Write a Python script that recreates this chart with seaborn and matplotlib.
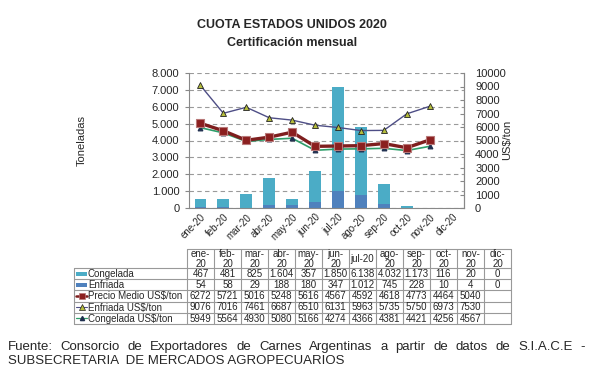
import numpy as np
import pandas as pd
import matplotlib
matplotlib.use('Agg')
import matplotlib.pyplot as plt
from matplotlib.patches import Rectangle
import seaborn as sns

### Datos
meses = ['ene-20', 'feb-20', 'mar-20', 'abr-20', 'may-20', 'jun-20',
         'jul-20', 'ago-20', 'sep-20', 'oct-20', 'nov-20', 'dic-20']
congelada = [467, 481, 825, 1604, 357, 1850, 6138, 4032, 1173, 116, 20, 0]
enfriada = [54, 58, 29, 188, 180, 347, 1012, 745, 228, 10, 4, 0]
precio_medio = [6272, 5721, 5016, 5248, 5616, 4567, 4592, 4618, 4773, 4464, 5040]
enfriada_usd = [9076, 7016, 7461, 6687, 6510, 6131, 5963, 5735, 5750, 6973, 7530]
congelada_usd = [5949, 5564, 4930, 5080, 5166, 4274, 4366, 4381, 4421, 4256, 4567]

c_cong = '#4BACC6'
c_enf = '#4F81BD'
c_precio = '#7E1E1E'
c_enf_usd = '#4E4E86'
c_cong_usd = '#2E9E6A'

sns.set_style('white')
plt.rcParams['font.family'] = ['Liberation Sans', 'DejaVu Sans']

W, H = 593, 377
fig = plt.figure(figsize=(W / 100, H / 100), dpi=100)
fig.patch.set_facecolor('white')

def box(x0, y0, x1, y1):
    return [x0 / W, 1 - y1 / H, (x1 - x0) / W, (y1 - y0) / H]

###############################################################################
### Grafico principal
ax = fig.add_axes(box(189, 73, 464, 208))
df = pd.DataFrame({'mes': meses,
                   'total': np.array(congelada) + np.array(enfriada),
                   'enfriada': enfriada})
sns.barplot(data=df, x='mes', y='total', color=c_cong, saturation=1,
            width=0.52, linewidth=0, ax=ax)
sns.barplot(data=df, x='mes', y='enfriada', color=c_enf, saturation=1,
            width=0.52, linewidth=0, ax=ax)
ax.set_ylim(0, 8000)
ax.set_xlim(-0.5, 11.5)
ax.set_yticks(range(0, 8001, 1000))
ax.set_yticklabels([f'{v:,}'.replace(',', '.') for v in range(0, 8001, 1000)])
ax.yaxis.grid(True, color='#9a9a9a', linestyle=(0, (4, 3)), linewidth=0.8)
ax.set_axisbelow(True)
ax.set_xticks(range(len(meses)))
ax.set_xticklabels(meses, rotation=45, ha='right', rotation_mode='anchor', fontsize=7)
ax.set_xlabel('')
ax.set_ylabel('')
ax.tick_params(axis='y', labelsize=8, length=3, color='#888888', left=True, pad=4)
ax.tick_params(axis='x', length=0, pad=3)
for s in ['left', 'bottom', 'right']:
    ax.spines[s].set_color('#888888')
    ax.spines[s].set_linewidth(0.8)
ax.spines['top'].set_visible(False)

ax2 = ax.twinx()
pos = np.arange(len(precio_medio))
sns.lineplot(x=pos, y=congelada_usd, ax=ax2, color=c_cong_usd, linewidth=1.2,
             marker='^', markersize=3.5, markerfacecolor='#1f2f4f',
             markeredgecolor='#1f2f4f')
sns.lineplot(x=pos, y=enfriada_usd, ax=ax2, color=c_enf_usd, linewidth=1,
             marker='^', markersize=4.5, markerfacecolor='#b5bd3c',
             markeredgecolor='#222222', markeredgewidth=0.6)
sns.lineplot(x=pos, y=precio_medio, ax=ax2, color=c_precio, linewidth=2.4,
             marker='s', markersize=6, markerfacecolor='#8B1F1F',
             markeredgecolor='#b87878', markeredgewidth=0.8)
ax2.set_ylim(0, 10000)
ax2.set_yticks(range(0, 10001, 1000))
ax2.tick_params(axis='y', labelsize=8, length=3, color='#888888', direction='in', pad=8)
ax2.spines['right'].set_color('#888888')
ax2.spines['right'].set_linewidth(0.8)
ax2.spines['top'].set_visible(False)
ax2.spines['left'].set_visible(False)
ax2.spines['bottom'].set_visible(False)
ax2.set_xlim(-0.5, 11.5)

fig.text(82 / W, 1 - 140 / H, 'Toneladas', rotation=90, fontsize=8,
         ha='center', va='center')
fig.text(507 / W, 1 - 140 / H, 'US$/ton', rotation=90, fontsize=8,
         ha='center', va='center')

### Titulos
fig.text(292 / W, 1 - 25 / H, 'CUOTA ESTADOS UNIDOS 2020', fontsize=9,
         weight='bold', ha='center', va='center')
fig.text(292 / W, 1 - 43 / H, 'Certificación mensual', fontsize=9,
         weight='bold', ha='center', va='center')

###############################################################################
### Tabla de datos
tax = fig.add_axes([0, 0, 1, 1], zorder=-1)
tax.set_xlim(0, W)
tax.set_ylim(H, 0)
tax.axis('off')

gc = '#999999'
x_lab, x_col, cw = 74, 187, 27
x_end = x_col + cw * len(meses)
y_head, y_rows, rh = 249, 268, 11.2
n_rows = 5
y_end = y_rows + rh * n_rows

# bordes
tax.plot([x_col, x_end], [y_head, y_head], color=gc, lw=0.8)
for i in range(n_rows + 1):
    tax.plot([x_lab, x_end], [y_rows + i * rh] * 2, color=gc, lw=0.8)
tax.plot([x_lab, x_lab], [y_rows, y_end], color=gc, lw=0.8)
for j in range(len(meses) + 1):
    tax.plot([x_col + j * cw] * 2, [y_head, y_end], color=gc, lw=0.8)

for j, m in enumerate(meses):
    cx = x_col + (j + 0.5) * cw
    lab = m if m == 'jul-20' else m.replace('-', '-\n')
    tax.text(cx, (y_head + y_rows) / 2 + 0.5, lab, fontsize=7, ha='center',
             va='center', linespacing=0.95)

def fmt_t(v):
    return f'{v:,}'.replace(',', '.')

filas = [
    ('Congelada', [fmt_t(v) for v in congelada]),
    ('Enfriada', [fmt_t(v) for v in enfriada]),
    ('Precio Medio US$/ton', [str(v) for v in precio_medio]),
    ('Enfriada US$/ton', [str(v) for v in enfriada_usd]),
    ('Congelada US$/ton', [str(v) for v in congelada_usd]),
]
for i, (nombre, vals) in enumerate(filas):
    cy = y_rows + (i + 0.5) * rh
    tax.text(88, cy + 0.3, nombre, fontsize=7, ha='left', va='center')
    for j, v in enumerate(vals):
        tax.text(x_col + (j + 0.5) * cw, cy + 0.3, v, fontsize=7,
                 ha='center', va='center')

# simbolos de leyenda
def ry(i):
    return y_rows + (i + 0.5) * rh
tax.add_patch(Rectangle((76, ry(0) - 2), 11, 4, color=c_cong, lw=0))
tax.add_patch(Rectangle((76, ry(1) - 2), 11, 4, color=c_enf, lw=0))
tax.plot([76, 87], [ry(2)] * 2, color=c_precio, lw=1.8)
tax.plot([81.5], [ry(2)], marker='s', ms=4.5, mfc='#8B1F1F', mec='#b87878', mew=0.5)
tax.plot([76, 87], [ry(3)] * 2, color=c_enf_usd, lw=0.8)
tax.plot([81.5], [ry(3)], marker='^', ms=4, mfc='#b5bd3c', mec='#222222', mew=0.5)
tax.plot([76, 87], [ry(4)] * 2, color=c_cong_usd, lw=0.9)
tax.plot([81.5], [ry(4)], marker='^', ms=3, mfc='#1f2f4f', mec='#1f2f4f')

###############################################################################
### Fuente (linea 1 justificada)
linea1 = 'Fuente: Consorcio de Exportadores de Carnes Argentinas a partir de datos de S.I.A.C.E -'
linea2 = 'SUBSECRETARIA  DE MERCADOS AGROPECUARIOS'
renderer = fig.canvas.get_renderer()
palabras = linea1.split(' ')
objs = [fig.text(0, 1 - 347 / H, p, fontsize=9.5, va='center') for p in palabras]
anchos = [o.get_window_extent(renderer).width for o in objs]
x0_px, x1_px = 8, 585
hueco = (x1_px - x0_px - sum(anchos)) / (len(palabras) - 1)
x = x0_px
for o, a in zip(objs, anchos):
    o.set_x(x / W)
    x += a + hueco
fig.text(8 / W, 1 - 361 / H, linea2, fontsize=9.5, va='center')

fig.savefig('out.png', dpi=100, facecolor='white')
